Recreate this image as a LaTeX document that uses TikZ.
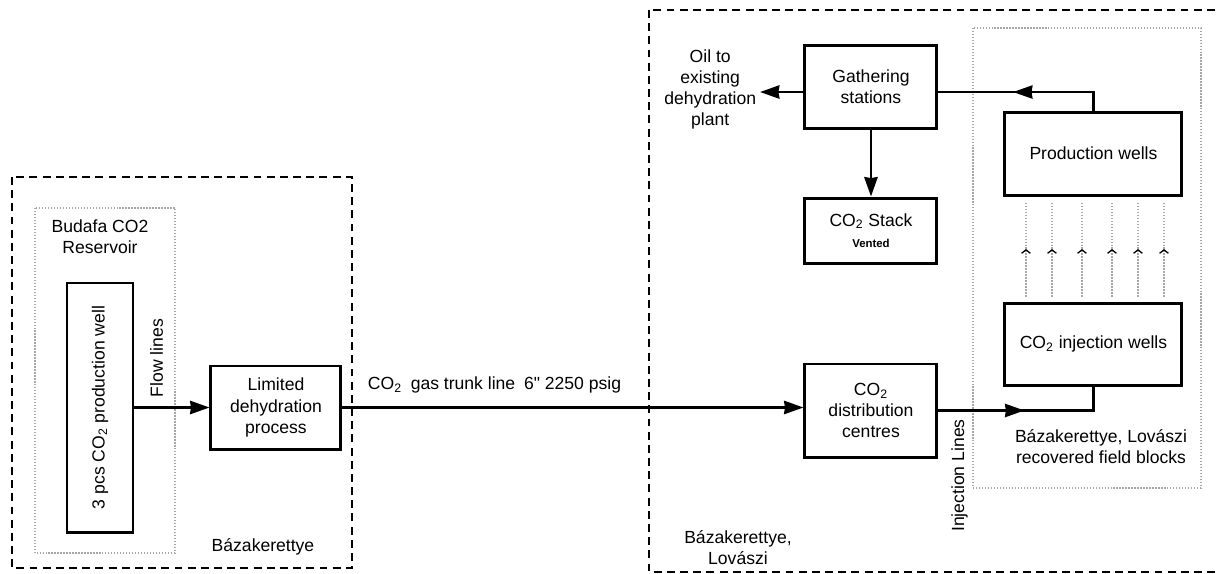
\documentclass[tikz,border=0pt]{standalone}
\usepackage{fontspec}
\setmainfont{Liberation Sans}
\usetikzlibrary{arrows.meta, positioning, backgrounds, decorations.markings}
\newcommand{\cotwo}{CO\textsubscript{2}}

\begin{document}
\begin{tikzpicture}[
                font=\fontsize{10}{12}\selectfont,
                box/.style={rectangle, draw=black, line width=1.7pt, align=center, inner sep=2pt},
                lbl/.style={align=center, inner sep=0pt},
                arrow/.style={line width=1.6pt, -{Stealth[length=11pt, width=7.5pt, inset=0.5pt]}},
                zone/.style={dash pattern=on 4.5pt off 3pt, line width=0.8pt},
                field/.style={densely dotted, gray!70, line width=0.7pt},
                midarrow/.style={postaction={decorate}, decoration={markings, mark=at position #1 with {\arrow{Stealth[length=11pt, width=7.5pt, inset=0.5pt]}}}},
                upmark/.style={postaction={decorate}, decoration={markings, mark=at position 0.5 with {\arrow{Straight Barb[length=2pt, width=5pt, color=black]}}}}
            ]%
            \useasboundingbox (0,0) rectangle (24.34,-11.46);
            %
            % === Budafa (izquierda) ===
            \node[box, minimum width=1.32cm, minimum height=4.98cm] (well) at (2.0,-8.15) {\rotatebox{90}{3 pcs \cotwo{} production well}};
            \node[lbl, above=0.54cm of well] (res) {Budafa CO2\\Reservoir};
            \node[box, minimum width=2.6cm, minimum height=1.66cm, right=1.5cm of well] (dehy) {Limited\\dehydration\\process};
            \node[lbl, rotate=90, anchor=west] (flow) at ([xshift=0.44cm, yshift=0.2cm]well.east) {Flow lines};
            \node[lbl, below=1.75cm of dehy, xshift=-0.26cm] (bzk) {Bázakerettye};
            %
            \draw[arrow] (well.east |- dehy.west) -- (dehy.west);
            %
            % === Bázakerettye, Lovászi (derecha) ===
            \node[box, minimum width=2.64cm, minimum height=1.86cm, right=9.22cm of dehy, yshift=-0.06cm] (dist) {\cotwo\\distribution\\centres};
            \node[box, minimum width=2.64cm, minimum height=1.3cm, above=1.96cm of dist] (stack) {\cotwo{} Stack\\{\fontsize{6.5}{8}\selectfont\bfseries Vented}};
            \node[box, minimum width=2.64cm, minimum height=1.66cm, above=1.34cm of stack] (gath) {Gathering\\stations};
            \node[box, minimum width=3.54cm, minimum height=1.66cm, right=1.3cm of gath, yshift=-1.34cm] (prod) {Production wells};
            \node[box, minimum width=3.54cm, minimum height=1.64cm, below=2.1cm of prod] (inj) {\cotwo{} injection wells};
            %
            \node[lbl, left=0.94cm of gath, yshift=-0.06cm] (oil) {Oil to\\existing\\dehydration\\plant};
            \node[lbl, rotate=90, anchor=east] (injlbl) at ([xshift=0.42cm, yshift=-0.17cm]dist.east) {Injection Lines};
            \node[lbl, below=0.85cm of inj, xshift=0.15cm] (fieldlbl) {Bázakerettye, Lovászi\\recovered field blocks};
            \node[lbl, below=1.44cm of dist, xshift=-2.66cm] (bzk2) {Bázakerettye,\\Lovászi};
            %
            % Conexiones
            \draw[arrow] (dehy.east) -- node[lbl, pos=0, anchor=west, xshift=0.48cm, yshift=0.45cm] (trunk) {\cotwo\enspace gas trunk line\enspace 6\textquotedbl{} 2250 psig} (dist.west |- dehy.east);
            \draw[arrow, shorten >=2pt] ([yshift=-0.11cm]gath.west) -- ([yshift=-0.11cm]gath.west -| oil.east);
            \draw[arrow] (gath) -- (stack);
            \draw[line width=1.3pt, midarrow=0.57] (prod.north) |- ([yshift=-0.11cm]gath.east);
            \draw[line width=1.6pt, midarrow=0.48] (dist.east) -| (inj.south);
            \foreach \dx in {-1.35,-0.83,-0.23,0.37,0.89,1.41}
                \draw[field, shorten <=0.1cm, shorten >=0.1cm, upmark] ([xshift=\dx cm]inj.north) -- ([xshift=\dx cm]prod.south);
            %
            % Zonas
            \begin{scope}[on background layer]
                \draw[zone] (0.24,-3.54) rectangle (7.04,-11.36);
                \draw[field] (0.70,-4.16) rectangle (3.50,-11.06);
                \draw[zone] (12.98,-0.20) rectangle (24.40,-11.44);
                \draw[field] (19.46,-0.56) rectangle (24.02,-9.76);
            \end{scope}
        \end{tikzpicture}
\end{document}
